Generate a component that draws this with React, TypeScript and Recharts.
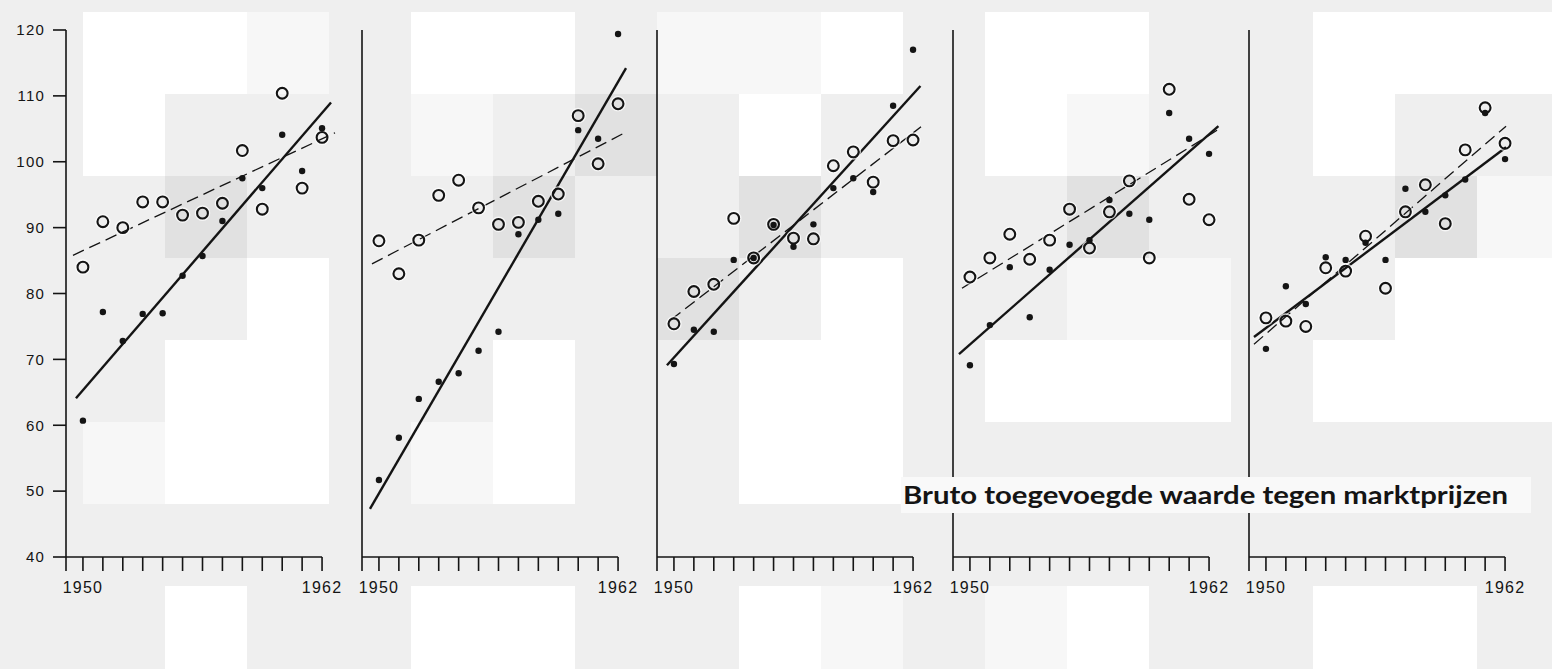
import { ComposedChart, Scatter, Line, XAxis, YAxis, ReferenceLine } from "recharts";

// years of observation and axis ticks
const years = [1950, 1951, 1952, 1953, 1954, 1955, 1956, 1957, 1958, 1959, 1960, 1961, 1962];
const xTicks = [1949.15, 1950, 1951, 1952, 1953, 1954, 1955, 1956, 1957, 1958, 1959, 1960, 1961, 1962];
const yTicks = [40, 50, 60, 70, 80, 90, 100, 110, 120];
const labelledYears = [1950, 1962];
const title = "Bruto toegevoegde waarde tegen marktprijzen";

// open circles (dashed trend) and filled dots (solid trend), per panel
const openP1 = [84.0, 90.9, 90.0, 93.9, 93.9, 91.9, 92.2, 93.7, 101.7, 92.8, 110.4, 96.0, 103.7];
const dotsP1 = [60.7, 77.2, 72.8, 76.9, 77.0, 82.7, 85.7, 91.0, 97.5, 96.0, 104.1, 98.6, 105.1];
const openP2 = [88.0, 83.0, 88.1, 94.9, 97.2, 93.0, 90.5, 90.8, 94.0, 95.1, 107.0, 99.7, 108.8];
const dotsP2 = [51.7, 58.1, 64.0, 66.6, 67.9, 71.3, 74.2, 89.0, 91.2, 92.1, 104.8, 103.5, 119.4];
const openP3 = [75.4, 80.3, 81.4, 91.4, 85.4, 90.5, 88.4, 88.3, 99.4, 101.5, 96.9, 103.2, 103.3];
const dotsP3 = [69.3, 74.5, 74.2, 85.1, 85.4, 90.4, 87.1, 90.5, 96.0, 97.5, 95.4, 108.5, 117.0];
const openP4 = [82.5, 85.4, 89.0, 85.2, 88.1, 92.8, 86.9, 92.4, 97.1, 85.4, 111.0, 94.3, 91.2];
const dotsP4 = [69.1, 75.2, 84.0, 76.4, 83.6, 87.4, 88.1, 94.2, 92.1, 91.2, 107.4, 103.5, 101.2];
const openP5 = [76.3, 75.8, 75.0, 83.9, 83.4, 88.7, 80.8, 92.4, 96.5, 90.6, 101.8, 108.2, 102.8];
const dotsP5 = [71.6, 81.1, 78.4, 85.5, 85.1, 87.7, 85.1, 95.9, 92.4, 94.9, 97.3, 107.4, 100.4];

// trend line end points: [start year, end year] and [start value, end value]
const solidYearsP1 = [1949.65, 1962.45];
const solidP1 = [64.1, 109.0];
const dashedYearsP1 = [1949.5, 1962.65];
const dashedP1 = [85.8, 104.4];
const solidYearsP2 = [1949.55, 1962.4];
const solidP2 = [47.3, 114.2];
const dashedYearsP2 = [1949.65, 1962.4];
const dashedP2 = [84.5, 104.5];
const solidYearsP3 = [1949.65, 1962.37];
const solidP3 = [69.1, 111.5];
const dashedYearsP3 = [1949.85, 1962.4];
const dashedP3 = [76.0, 105.3];
const solidYearsP4 = [1949.45, 1962.47];
const solidP4 = [70.8, 105.4];
const dashedYearsP4 = [1949.6, 1962.47];
const dashedP4 = [80.8, 104.9];
const solidYearsP5 = [1949.4, 1962.05];
const solidP5 = [73.4, 102.2];
const dashedYearsP5 = [1949.4, 1962.05];
const dashedP5 = [72.3, 105.4];

// background tiles: W white, V very light, L light grey, D darker grey
const tileRows = [
  "LLLLLLLLLLLLLLLLLLL",
  "LWWVLWWLVVWLWWLLWWW",
  "LWLLLVLDLWLLWVLLWLL",
  "LLDLLLDLLDLLLDLLLDV",
  "LLLWLLLLDLWLLVVLLWW",
  "LLWWLLWLLWWLWWWLWWW",
  "LVWWLVWLLWWLLLLLLLL",
  "LLLLLLLLLLLLLLLLLLL",
  "LLWLLWWLLWVLVWLLWWL",
];
const tileCols = [0, 83, 165, 247, 329, 411, 493, 575, 657, 739, 821, 903, 985, 1067, 1149, 1231, 1313, 1395, 1477, 1552];
const tileRowEdges = [0, 12, 94, 176, 258, 340, 422, 504, 586, 669];
const tileColors: Record<string, string> = { W: "#ffffff", V: "#f7f7f7", L: "#efefef", D: "#e1e1e1" };

const INK = "#141414";
const AXIS_X = [66, 362, 657, 953, 1249];
const DOMAIN: [number, number] = [1949.15, 1962.7];
const PLOT_W = 270;
const Y_AXIS_W = 66;

const toPoints = (vals: number[]) => vals.map((v, i) => ({ x: years[i], v }));
const toLine = (xs: number[], vs: number[]) => xs.map((x, i) => ({ x, v: vs[i] }));

const panels = [
  { open: openP1, dots: dotsP1, solid: toLine(solidYearsP1, solidP1), dashed: toLine(dashedYearsP1, dashedP1) },
  { open: openP2, dots: dotsP2, solid: toLine(solidYearsP2, solidP2), dashed: toLine(dashedYearsP2, dashedP2) },
  { open: openP3, dots: dotsP3, solid: toLine(solidYearsP3, solidP3), dashed: toLine(dashedYearsP3, dashedP3) },
  { open: openP4, dots: dotsP4, solid: toLine(solidYearsP4, solidP4), dashed: toLine(dashedYearsP4, dashedP4) },
  { open: openP5, dots: dotsP5, solid: toLine(solidYearsP5, solidP5), dashed: toLine(dashedYearsP5, dashedP5) },
];

const OpenCircle = (props: any) => {
  const { cx, cy } = props;
  if (cx == null || cy == null) return null;
  return (
    <g>
      <circle cx={cx} cy={cy} r={7} fill="none" stroke="#ffffff" strokeOpacity={0.7} strokeWidth={1.6} />
      <circle cx={cx} cy={cy} r={5.4} fill="none" stroke={INK} strokeWidth={2.1} />
    </g>
  );
};

const FilledDot = (props: any) => {
  const { cx, cy } = props;
  if (cx == null || cy == null) return null;
  return <circle cx={cx} cy={cy} r={3.2} fill={INK} />;
};

function Panel({ index }: { index: number }) {
  const p = panels[index];
  const first = index === 0;
  return (
    <div style={{ position: "absolute", left: AXIS_X[index] - Y_AXIS_W, top: 0 }}>
      <ComposedChart
        width={Y_AXIS_W + PLOT_W + 6}
        height={610}
        margin={{ top: 30, right: 6, bottom: 8, left: 0 }}
      >
        <XAxis
          dataKey="x"
          type="number"
          domain={DOMAIN}
          ticks={xTicks}
          interval={0}
          allowDataOverflow
          axisLine={false}
          tickLine={{ stroke: INK, strokeWidth: 1.6 }}
          tickSize={14}
          tickMargin={11}
          height={45}
          tick={{ fill: INK, fontSize: 16, fontFamily: "Liberation Sans", letterSpacing: 1.2 }}
          tickFormatter={(v: number) => (labelledYears.includes(v) ? String(v) : "")}
        />
        <YAxis
          dataKey="v"
          type="number"
          domain={[40, 120]}
          ticks={yTicks}
          interval={0}
          allowDataOverflow
          width={Y_AXIS_W}
          axisLine={{ stroke: INK, strokeWidth: 1.6 }}
          tickLine={first ? { stroke: INK, strokeWidth: 1.6 } : false}
          tickSize={13}
          tickMargin={8}
          tick={first ? { fill: INK, fontSize: 15, fontFamily: "Liberation Sans", letterSpacing: 1.2 } : false}
        />
        <ReferenceLine
          segment={[
            { x: DOMAIN[0], y: 40 },
            { x: 1962, y: 40 },
          ]}
          stroke={INK}
          strokeWidth={1.6}
        />
        <Line
          data={p.dashed}
          dataKey="v"
          type="linear"
          stroke={INK}
          strokeWidth={1.3}
          strokeDasharray="12 6"
          dot={false}
          activeDot={false}
          isAnimationActive={false}
        />
        <Line
          data={p.solid}
          dataKey="v"
          type="linear"
          stroke={INK}
          strokeWidth={2.4}
          dot={false}
          activeDot={false}
          isAnimationActive={false}
        />
        <Scatter data={toPoints(p.open)} dataKey="v" shape={OpenCircle} isAnimationActive={false} />
        <Scatter data={toPoints(p.dots)} dataKey="v" shape={FilledDot} isAnimationActive={false} />
      </ComposedChart>
    </div>
  );
}

export default function App() {
  return (
    <div
      style={{
        position: "absolute",
        left: 0,
        top: 0,
        width: 1552,
        height: 669,
        overflow: "hidden",
        background: "#efefef",
      }}
    >
      {tileRows.map((row, r) =>
        row.split("").map((c, k) => (
          <div
            key={`${r}-${k}`}
            style={{
              position: "absolute",
              left: tileCols[k],
              top: tileRowEdges[r],
              width: tileCols[k + 1] - tileCols[k],
              height: tileRowEdges[r + 1] - tileRowEdges[r],
              background: tileColors[c],
            }}
          />
        ))
      )}
      {panels.map((_, i) => (
        <Panel key={i} index={i} />
      ))}
      <svg
        width={630}
        height={36}
        style={{ position: "absolute", left: 901, top: 477 }}
      >
        <rect x={0} y={0} width={630} height={36} fill="#f9f9f9" />
        <text
          x={2}
          y={27}
          fill={INK}
          fontFamily="Lato, 'Open Sans', sans-serif"
          fontWeight={700}
          fontSize={24}
          textLength={605}
          lengthAdjust="spacingAndGlyphs"
        >
          {title}
        </text>
      </svg>
    </div>
  );
}
